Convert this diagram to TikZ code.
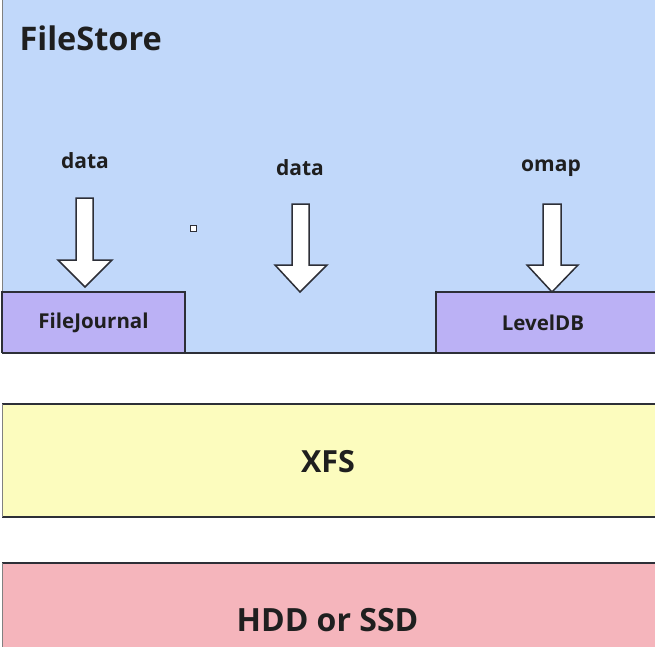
\documentclass[tikz,border=0pt]{standalone}
\usepackage{fontspec}
\setmainfont{Open Sans}
\definecolor{fsblue}{RGB}{193,216,250}
\definecolor{jpurple}{RGB}{187,177,245}
\definecolor{xyellow}{RGB}{252,252,190}
\definecolor{hpink}{RGB}{245,181,188}
\definecolor{edge}{RGB}{45,47,55}
\begin{document}
\begin{tikzpicture}[x=1pt,y=-1pt,
  layerline/.style={draw=edge,line width=2pt},
  blockarrow/.style={draw=edge,fill=white,line width=1.5pt,line join=miter},
  lbl/.style={font=\bfseries\fontsize{21}{23}\selectfont,text=black!88},
  boxlbl/.style={font=\bfseries\fontsize{20.5}{23}\selectfont,text=black!88},
  big/.style={font=\bfseries\fontsize{32.5}{35}\selectfont,text=black!88}]
\useasboundingbox (0,0) rectangle (655,647);
% FileStore region
\fill[fsblue] (2,0) rectangle (655,353);
\draw[gray,line width=1pt] (2,0) -- (2,353);
% FileJournal
\filldraw[fill=jpurple,layerline] (2,353) -- (2,292) -- (185,292) -- (185,353);
\node[boxlbl] (fj) at (93.5,323) {FileJournal};
% LevelDB
\fill[jpurple] (436,292) rectangle (655,353);
\draw[layerline] (436,353) -- (436,292) -- (656,292);
\node[boxlbl] (ldb) at (543,323) {LevelDB};
\draw[layerline] (2,353) -- (655,353);
\node[big,anchor=west] (fs) at (16,38) {FileStore};
% labels
\node[lbl] (d1) at (85,161) {data};
\node[lbl] (d2) at (300,168) {data};
\node[lbl] (om) at (551,168) {omap};
% arrows
\draw[blockarrow] (76,198) -- (93,198) -- (93,260) -- (112,260) -- (85,287) -- (58,260) -- (76,260) -- cycle;
\draw[blockarrow] (292,204) -- (309,204) -- (309,265) -- (327,265) -- (300,292) -- (275,265) -- (292,265) -- cycle;
\draw[blockarrow] (543,204) -- (561,204) -- (561,265) -- (578,265) -- (552,292) -- (527,265) -- (543,265) -- cycle;
% small square
\node[draw=edge,fill=white,line width=0.8pt,minimum size=6pt,inner sep=0pt] (sq) at (193,228) {};
% XFS
\fill[xyellow] (2,404) rectangle (655,517);
\draw[layerline] (2,404) -- (655,404);
\draw[layerline] (2,517) -- (655,517);
\draw[gray,line width=1pt] (2,404) -- (2,517);
\node[big,font=\bfseries\fontsize{30.5}{33}\selectfont] (xfs) at (328,462) {XFS};
% HDD
\fill[hpink] (2,563) rectangle (655,647);
\draw[layerline] (2,563) -- (655,563);
\draw[gray,line width=1pt] (2,563) -- (2,647);
\node[big,font=\bfseries\fontsize{32}{35}\selectfont] (hdd) at (327.5,620) {HDD or SSD};
\end{tikzpicture}
\end{document}
